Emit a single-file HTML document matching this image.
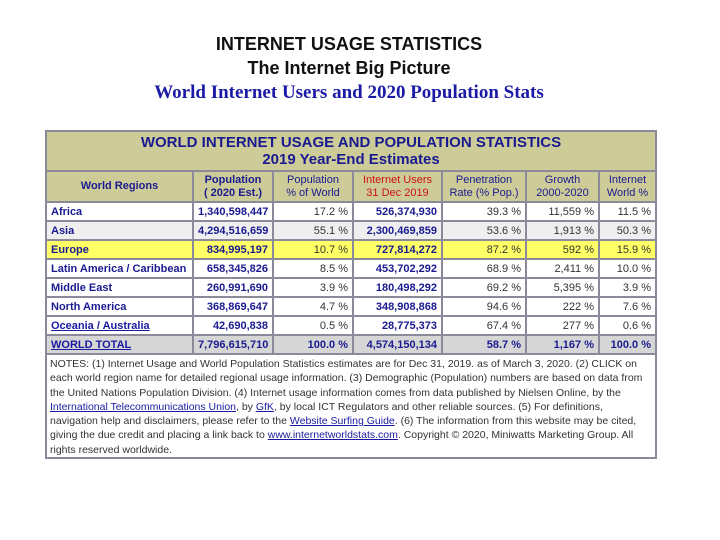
<!DOCTYPE html>
<html><head><meta charset="utf-8"><style>
body{margin:0;width:720px;height:540px;background:#fff;position:relative;overflow:hidden;font-family:"Liberation Sans",Arial,sans-serif}
.t{position:absolute;left:0;width:698px;text-align:center;font-weight:bold}
table{position:absolute;left:45px;top:130px;width:610px;border-collapse:collapse;table-layout:fixed;border:2px solid #8a8a9a}
td{border:2px solid #8a8a9a;padding:0 4px;font-size:11px;height:17px;color:#333;text-align:right;white-space:nowrap;overflow:hidden}
td.r{text-align:left;color:#1a1a90;font-weight:bold}
td.b{color:#1a1a90;font-weight:bold}
.hd td{background:#cdcc99;color:#1a1a90;font-weight:bold;text-align:center;line-height:13px;height:29px}
.ti td{background:#cdcc99;color:#1a1a90;font-weight:bold;text-align:center;font-size:15px;line-height:17px;height:38px}
.g td{background:#efefef}.y td{background:#ffff66}.w td{background:#d6d6d6}
a{color:#1a1aa0;text-decoration:underline}
.n td{text-align:left;font-size:10.5px;line-height:14.3px;white-space:normal;color:#333;padding:2px 3px 0 3px;height:auto}
</style></head><body>
<div class="t" style="top:34px;font-size:18px;color:#111">INTERNET USAGE STATISTICS</div>
<div class="t" style="top:58px;font-size:18px;color:#111">The Internet Big Picture</div>
<div class="t" style="top:82px;font-size:19px;color:#1a1aa6;font-family:'Liberation Serif',serif">World Internet Users and 2020 Population Stats</div>
<table>
<colgroup><col style="width:147px"><col style="width:80px"><col style="width:80px"><col style="width:89px"><col style="width:84px"><col style="width:73px"><col style="width:57px"></colgroup>
<tr class="ti"><td colspan="7">WORLD INTERNET USAGE AND POPULATION STATISTICS<br>2019 Year-End Estimates</td></tr>
<tr class="hd"><td>World Regions</td><td>Population<br>( 2020 Est.)</td><td style="font-weight:normal">Population<br>% of World</td><td style="color:#cc1111;font-weight:normal">Internet Users<br>31 Dec 2019</td><td style="font-weight:normal">Penetration<br>Rate (% Pop.)</td><td style="font-weight:normal">Growth<br>2000-2020</td><td style="font-weight:normal">Internet<br>World %</td></tr>
<tr><td class="r">Africa</td><td class="b">1,340,598,447</td><td>17.2 %</td><td class="b">526,374,930</td><td>39.3 %</td><td>11,559 %</td><td>11.5 %</td></tr>
<tr class="g"><td class="r">Asia</td><td class="b">4,294,516,659</td><td>55.1 %</td><td class="b">2,300,469,859</td><td>53.6 %</td><td>1,913 %</td><td>50.3 %</td></tr>
<tr class="y"><td class="r">Europe</td><td class="b">834,995,197</td><td>10.7 %</td><td class="b">727,814,272</td><td>87.2 %</td><td>592 %</td><td>15.9 %</td></tr>
<tr><td class="r">Latin America / Caribbean</td><td class="b">658,345,826</td><td>8.5 %</td><td class="b">453,702,292</td><td>68.9 %</td><td>2,411 %</td><td>10.0 %</td></tr>
<tr><td class="r">Middle East</td><td class="b">260,991,690</td><td>3.9 %</td><td class="b">180,498,292</td><td>69.2 %</td><td>5,395 %</td><td>3.9 %</td></tr>
<tr><td class="r">North America</td><td class="b">368,869,647</td><td>4.7 %</td><td class="b">348,908,868</td><td>94.6 %</td><td>222 %</td><td>7.6 %</td></tr>
<tr><td class="r"><a href="#">Oceania / Australia</a></td><td class="b">42,690,838</td><td>0.5 %</td><td class="b">28,775,373</td><td>67.4 %</td><td>277 %</td><td>0.6 %</td></tr>
<tr class="w"><td class="r"><a href="#">WORLD TOTAL</a></td><td class="b">7,796,615,710</td><td class="b">100.0 %</td><td class="b">4,574,150,134</td><td class="b">58.7 %</td><td class="b">1,167 %</td><td class="b">100.0 %</td></tr>
<tr class="n"><td colspan="7">NOTES: (1) Internet Usage and World Population Statistics estimates are for Dec 31, 2019. as of March 3, 2020. (2) CLICK on each world region name for detailed regional usage information. (3) Demographic (Population) numbers are based on data from the United Nations Population Division. (4) Internet usage information comes from data published by Nielsen Online, by the <a href="#">International Telecommunications Union</a>, by <a href="#">GfK</a>, by local ICT Regulators and other reliable sources. (5) For definitions, navigation help and disclaimers, please refer to the <a href="#">Website Surfing Guide</a>. (6) The information from this website may be cited, giving the due credit and placing a link back to <a href="#">www.internetworldstats.com</a>. Copyright © 2020, Miniwatts Marketing Group. All rights reserved worldwide.</td></tr>
</table>
</body></html>
